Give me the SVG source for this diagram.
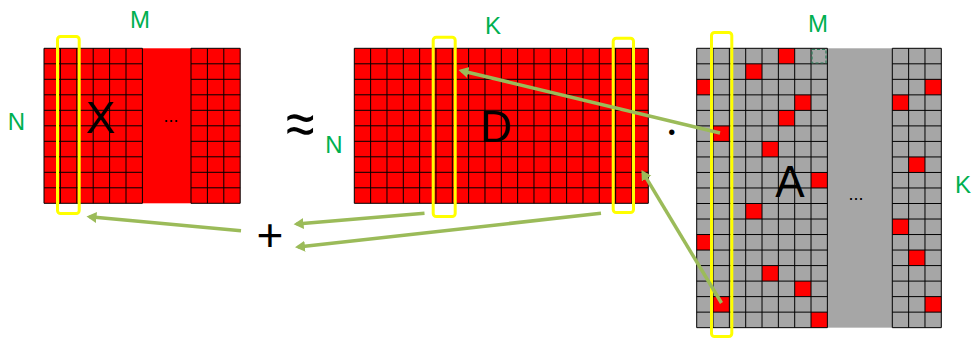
<svg xmlns="http://www.w3.org/2000/svg" width="978" height="339" viewBox="0 0 978 339">
<style>
.grid{fill:none;stroke:#000;stroke-width:1}
.red{fill:#FF0000}
.grey{fill:#A6A6A6}
.yel{fill:none;stroke:#FFFF00;stroke-width:3}
.lab{font-family:"Liberation Sans",Arial,sans-serif;font-size:24px;fill:#00B050;text-anchor:middle}
.big{font-family:"Liberation Sans",Arial,sans-serif;font-size:44px;fill:#000;text-anchor:middle}
.sym{font-family:"Liberation Sans",Arial,sans-serif;fill:#000;text-anchor:middle}
.arr{fill:none;stroke:#9BBB59;stroke-width:3.5;marker-end:url(#ah)}
</style>
<defs>
<marker id="ah" markerUnits="userSpaceOnUse" markerWidth="12" markerHeight="12" refX="7" refY="5.5" orient="auto">
<path d="M0,0 L10,5.5 L0,11 z" fill="#9BBB59"/>
</marker>
</defs>
<rect width="978" height="339" fill="#fff"/>

<g id="matrix-X">
<rect class="red" x="44" y="48.3" width="196.2" height="155"/>
<g transform="translate(44,48.3)">
<path class="grid" d="M0 0H98.4V155H0Z M0 15.5H98.4 M0 31H98.4 M0 46.5H98.4 M0 62H98.4 M0 77.5H98.4 M0 93H98.4 M0 108.5H98.4 M0 124H98.4 M0 139.5H98.4 M16.4 0V155 M32.8 0V155 M49.2 0V155 M65.6 0V155 M82 0V155"/>
</g>
<g transform="translate(191,48.3)">
<path class="grid" d="M0 0H49.2V155H0Z M0 15.5H49.2 M0 31H49.2 M0 46.5H49.2 M0 62H49.2 M0 77.5H49.2 M0 93H49.2 M0 108.5H49.2 M0 124H49.2 M0 139.5H49.2 M16.4 0V155 M32.8 0V155"/>
</g>
<rect class="yel" x="57.5" y="36.5" width="21.7" height="177" rx="3"/>
<text class="big" x="100.5" y="133.3">X</text>
<text class="sym" x="171" y="122" font-size="18">...</text>
<text class="lab" x="140" y="28">M</text>
<text class="lab" x="16.3" y="130">N</text>
</g>

<g id="approx">
<text class="sym" transform="translate(300,125) scale(1,1.2)" x="0" y="17" font-size="52">≈</text>
</g>

<g id="matrix-D">
<rect class="red" x="354.3" y="48.3" width="294" height="155"/>
<g transform="translate(354.3,48.3)">
<path class="grid" d="M0 0H294V155H0Z M0 15.5H294 M0 31H294 M0 46.5H294 M0 62H294 M0 77.5H294 M0 93H294 M0 108.5H294 M0 124H294 M0 139.5H294 M16.33 0V155 M32.67 0V155 M49 0V155 M65.33 0V155 M81.67 0V155 M98 0V155 M114.33 0V155 M130.67 0V155 M147 0V155 M163.33 0V155 M179.67 0V155 M196 0V155 M212.33 0V155 M228.67 0V155 M245 0V155 M261.33 0V155 M277.67 0V155"/>
</g>
<rect class="yel" x="433.2" y="37.2" width="22" height="179.3" rx="3"/>
<rect class="yel" x="613.2" y="38.2" width="20.3" height="174.3" rx="3"/>
<text class="big" x="496" y="141.7">D</text>
<text class="lab" x="493" y="34">K</text>
<text class="lab" x="334" y="153">N</text>
</g>

<g id="dot">
<text class="sym" x="671.7" y="139" font-size="20">•</text>
</g>

<g id="matrix-A">
<rect class="grey" x="696.7" y="48.3" width="244.6" height="279.36"/>
<g transform="translate(696.7,48.3)">
<g class="red">
<rect x="81.67" y="0" width="16.33" height="15.52"/>
<rect x="49" y="15.52" width="16.33" height="15.52"/>
<rect x="0" y="31.04" width="16.33" height="15.52"/>
<rect x="98" y="46.56" width="16.33" height="15.52"/>
<rect x="81.67" y="62.08" width="16.33" height="15.52"/>
<rect x="16.33" y="77.6" width="16.33" height="15.52"/>
<rect x="65.33" y="93.12" width="16.33" height="15.52"/>
<rect x="114.33" y="124.16" width="16.33" height="15.52"/>
<rect x="49" y="155.2" width="16.33" height="15.52"/>
<rect x="0" y="186.24" width="16.33" height="15.52"/>
<rect x="65.33" y="217.28" width="16.33" height="15.52"/>
<rect x="98" y="232.8" width="16.33" height="15.52"/>
<rect x="16.33" y="248.32" width="16.33" height="15.52"/>
<rect x="114.33" y="263.84" width="16.33" height="15.52"/>
</g>
<path class="grid" d="M0 0H130.67V279.36H0Z M0 15.52H130.67 M0 31.04H130.67 M0 46.56H130.67 M0 62.08H130.67 M0 77.6H130.67 M0 93.12H130.67 M0 108.64H130.67 M0 124.16H130.67 M0 139.68H130.67 M0 155.2H130.67 M0 170.72H130.67 M0 186.24H130.67 M0 201.76H130.67 M0 217.28H130.67 M0 232.8H130.67 M0 248.32H130.67 M0 263.84H130.67 M16.33 0V279.36 M32.67 0V279.36 M49 0V279.36 M65.33 0V279.36 M81.67 0V279.36 M98 0V279.36 M114.33 0V279.36"/>
</g>
<g transform="translate(892.3,48.3)">
<g class="red">
<rect x="32.67" y="31.04" width="16.33" height="15.52"/>
<rect x="0" y="46.56" width="16.33" height="15.52"/>
<rect x="16.33" y="108.64" width="16.33" height="15.52"/>
<rect x="0" y="170.72" width="16.33" height="15.52"/>
<rect x="16.33" y="201.76" width="16.33" height="15.52"/>
<rect x="32.67" y="248.32" width="16.33" height="15.52"/>
</g>
<path class="grid" d="M0 0H49V279.36H0Z M0 15.52H49 M0 31.04H49 M0 46.56H49 M0 62.08H49 M0 77.6H49 M0 93.12H49 M0 108.64H49 M0 124.16H49 M0 139.68H49 M0 155.2H49 M0 170.72H49 M0 186.24H49 M0 201.76H49 M0 217.28H49 M0 232.8H49 M0 248.32H49 M0 263.84H49 M16.33 0V279.36 M32.67 0V279.36"/>
</g>
<rect x="812" y="49.5" width="14" height="13.5" fill="#A6A6A6" stroke="#2E7D5A" stroke-width="1.2" stroke-dasharray="3 2"/>
<rect class="yel" x="711.5" y="32.5" width="20.3" height="304" rx="3"/>
<text class="big" x="790" y="196.7">A</text>
<text class="sym" x="856" y="199.5" font-size="18">...</text>
<text class="lab" x="818" y="32">M</text>
<text class="lab" x="963" y="193" text-anchor="start">K</text>
</g>

<g id="plus">
<text class="sym" x="270" y="250.5" font-size="46">+</text>
</g>

<g id="connectors">
<path class="arr" d="M720 133 L461.4 70.7"/>
<path class="arr" d="M721.5 303 L643 172.6"/>
<path class="arr" d="M424.5 213.3 L296.6 224.05"/>
<path class="arr" d="M601 213.3 L298 246.97"/>
<path class="arr" d="M241 230.7 L89.5 216.8"/>
</g>
</svg>
